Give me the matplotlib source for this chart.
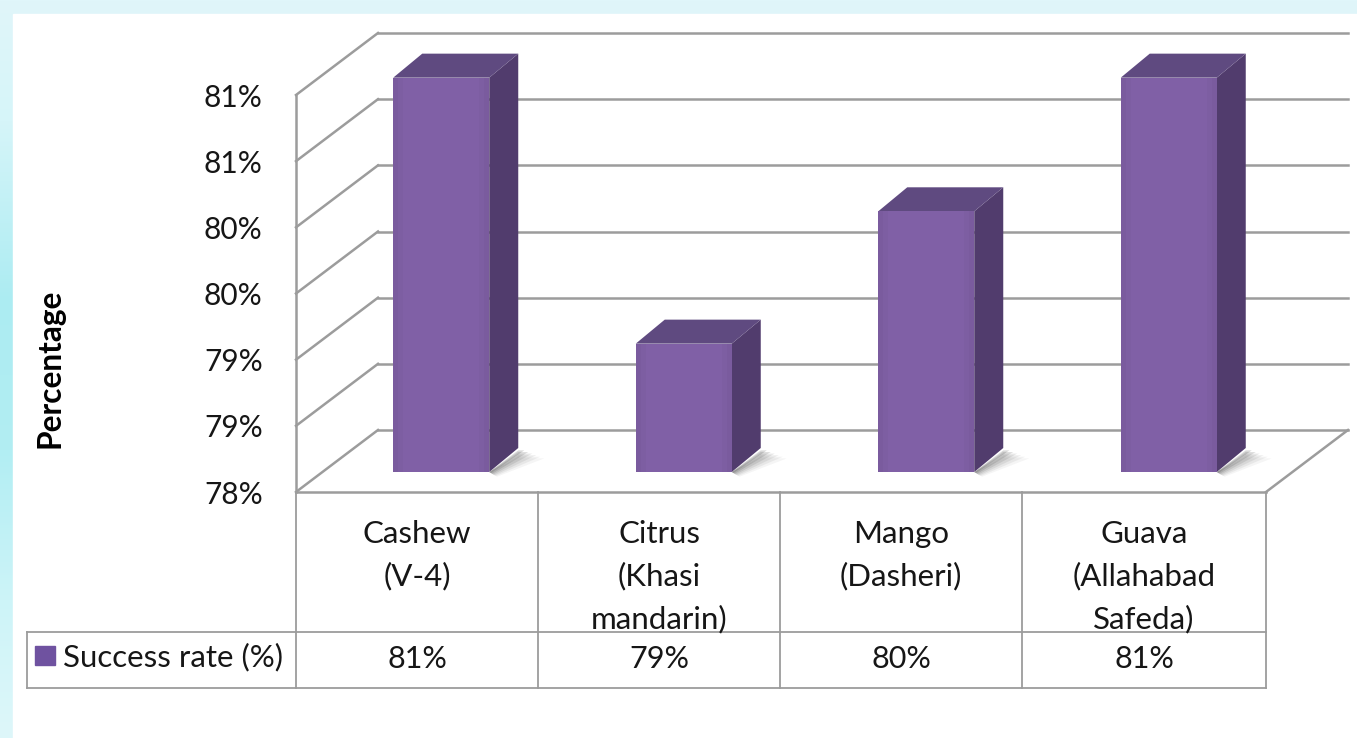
import matplotlib
matplotlib.use("Agg")
import matplotlib.pyplot as plt
import numpy as np
from matplotlib.transforms import ScaledTranslation

plt.rcParams["font.family"] = ["Lato", "DejaVu Sans"]

categories = ["Cashew\n(V-4)", "Citrus\n(Khasi\nmandarin)", "Mango\n(Dasheri)", "Guava\n(Allahabad\nSafeda)"]
values = [80.98, 78.97, 79.97, 80.98]
value_labels = ["81%", "79%", "80%", "81%"]
y_ticks = [78, 78.5, 79, 79.5, 80, 80.5, 81]
y_tick_labels = ["78%", "79%", "79%", "80%", "80%", "81%", "81%"]
series_name = "Success rate (%)"

W, H = 1357, 738
DPI = 100
GREY = "#9c9c9c"
TEXT = "#161616"

fig = plt.figure(figsize=(W / DPI, H / DPI), dpi=DPI)

# pixel canvas for the slide background and the table
bg = fig.add_axes([0, 0, 1, 1])
bg.set_xlim(0, W)
bg.set_ylim(H, 0)
bg.axis("off")
stops_y = [0, 120, 300, 450, 600, 738]
stops_c = [[224, 246, 250], [214, 245, 249], [172, 236, 242], [178, 238, 243], [205, 244, 248], [222, 247, 250]]
rows = np.arange(H)
grad = np.stack([np.interp(rows, stops_y, [c[i] for c in stops_c]) for i in range(3)], axis=1)
bg.imshow(grad[:, None, :] / 255, extent=[0, W, H, 0], aspect="auto", zorder=0)
bg.set_xlim(0, W)
bg.set_ylim(H, 0)
bg.fill([13, W, W, 13], [14, 14, H, H], color="white", zorder=1)

# table under the plot
col_x = [296, 538, 780, 1022, 1266]
for x in col_x:
    bg.plot([x, x], [492, 688], color=GREY, lw=1.3, zorder=2)
bg.plot([27, 1266], [632, 632], color=GREY, lw=1.3, zorder=2)
bg.plot([27, 1266], [688, 688], color=GREY, lw=1.3, zorder=2)
bg.plot([27, 27], [632, 688], color=GREY, lw=1.3, zorder=2)
bg.fill([35, 55, 55, 35], [646, 646, 665, 665], color="#6f52a0", zorder=3)
bg.text(63, 657, series_name, fontsize=22.5, color=TEXT, va="center", ha="left", zorder=3)
for i in range(4):
    cx = (col_x[i] + col_x[i + 1]) / 2
    bg.text(cx, 520, categories[i], fontsize=22.5, color=TEXT, va="top", ha="center",
            linespacing=1.6, zorder=3)
    bg.text(cx, 659, value_labels[i], fontsize=22, color=TEXT, va="center", ha="center", zorder=3)
bg.text(50, 368, "Percentage", fontsize=22.8, fontweight="bold", color="black", rotation=90,
        va="center", ha="center", zorder=3)

# plot area, front plane of the 3d box
ax = fig.add_axes([296 / W, 1 - 492 / H, 970 / W, 397 / H])
ax.patch.set_alpha(0)
ax.set_xlim(0, 4)
ax.set_ylim(78, 81)
for s in ["top", "right"]:
    ax.spines[s].set_visible(False)
for s in ["left", "bottom"]:
    ax.spines[s].set_color(GREY)
    ax.spines[s].set_linewidth(1.8)
ax.set_xticks([])
ax.set_yticks(y_ticks)
ax.set_yticklabels(y_tick_labels, fontsize=21.5, color=TEXT)
ax.tick_params(axis="y", length=0, pad=24)

per_x = 1 / 242.5
per_y = 3 / 397


def shift(dx, dy):
    return ax.transData + ScaledTranslation(dx / DPI, dy / DPI, fig.dpi_scale_trans)


wall = shift(82, 62)
for v in y_ticks:
    ax.plot([0, 4], [v, v], color=GREY, lw=1.8, transform=wall, clip_on=False, zorder=1)
    ax.plot([0, 82 * per_x], [v, v + 62 * per_y], color=GREY, lw=1.8, clip_on=False, zorder=1)
ax.plot([4, 4 + 82 * per_x], [78, 78 + 62 * per_y], color=GREY, lw=1.8, clip_on=False, zorder=1)

# bars
bar_w = 96 * per_x
front = shift(24, 20)
xpos = np.arange(4) + 0.5
dx = 29 * per_x
dy = 24 * per_y
for x, v in zip(xpos, values):
    l, r = x - bar_w / 2, x + bar_w / 2
    # floor shadow beside the bar, soft on the outer side
    for e, a in [(26, 0.05), (22, 0.07), (18, 0.09), (14, 0.12), (10, 0.16), (6, 0.2)]:
        ex = e * per_x
        ax.fill([r, r + dx, r + dx + ex, r + 0.3 * ex],
                [78, 78 + dy * (1 - e / 60), 78 + dy * (1 - e / 60), 78 - 0.18 * e * per_y],
                color="#3c3c3c", alpha=a, lw=0, transform=front, clip_on=False, zorder=2)
    ax.bar(x, v - 78, width=bar_w, bottom=78, color="#8060a6", lw=0,
           transform=front, clip_on=False, zorder=4)
    # front face is a little darker towards its edges
    for w, a in [(10, 0.05), (5, 0.06)]:
        ax.bar(l + w * per_x / 2, v - 78, width=w * per_x, bottom=78, color="#4a3a6a", alpha=a, lw=0,
               transform=front, clip_on=False, zorder=5)
        ax.bar(r - w * per_x / 2, v - 78, width=w * per_x, bottom=78, color="#4a3a6a", alpha=a, lw=0,
               transform=front, clip_on=False, zorder=5)
    ax.fill([r, r + dx, r + dx, r], [78, 78 + dy, v + dy, v], color="#513c6d", lw=0,
            transform=front, clip_on=False, zorder=3)
    ax.fill([l, r, r + dx, l + dx], [v, v, v + dy, v + dy], color="#5f4a80", lw=0,
            transform=front, clip_on=False, zorder=3)

fig.savefig("out.png", dpi=DPI)
